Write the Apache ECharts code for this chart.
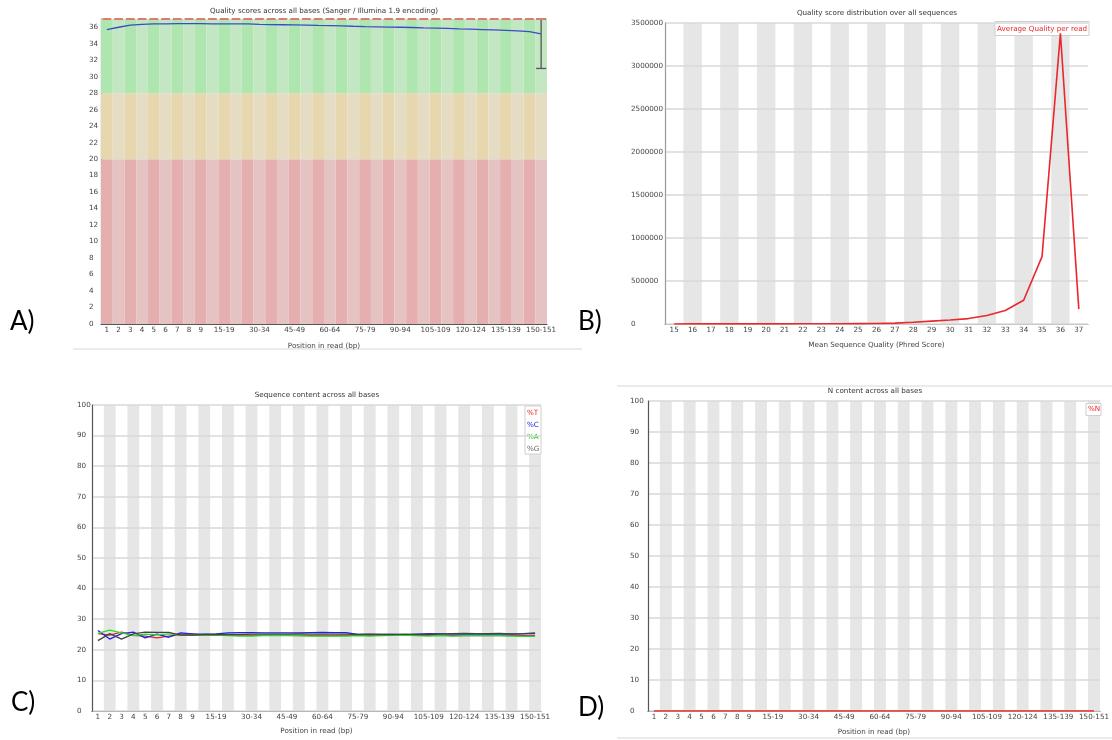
<!DOCTYPE html>
<html><head><meta charset="utf-8">
<script src="https://cdn.jsdelivr.net/npm/echarts@6/dist/echarts.min.js"></script>
<style>html,body{margin:0;padding:0;background:#fff}#c{width:1112px;height:740px}</style>
</head><body><div id="c"></div><script>
// ---------- data ----------
const positions = ['1','2','3','4','5','6','7','8','9','10-14','15-19','20-24','25-29','30-34','35-39','40-44','45-49','50-54','55-59','60-64','65-69','70-74','75-79','80-84','85-89','90-94','95-99','100-104','105-109','110-114','115-119','120-124','125-129','130-134','135-139','140-144','145-149','150-151'];

// A) per-base quality
const zoneBounds = [20, 28, 37]; // bad / ok / good upper limits
const meanQuality = [35.7,36.0,36.25,36.35,36.4,36.42,36.43,36.43,36.43,36.42,36.42,36.4,36.4,36.35,36.32,36.3,36.28,36.25,36.22,36.2,36.17,36.12,36.08,36.05,36.02,36.0,35.97,35.93,35.9,35.86,35.8,35.76,35.72,35.68,35.62,35.55,35.48,35.2];
const medianQuality = [37,37,37,37,37,37,37,37,37,37,37,37,37,37,37,37,37,37,37,37,37,37,37,37,37,37,37,37,37,37,37,37,37,37,37,37,37,37];
const lowerQuartile = [37,37,37,37,37,37,37,37,37,37,37,37,37,37,37,37,37,37,37,37,37,37,37,37,37,37,37,37,37,37,37,37,37,37,37,37,37,37];
const upperQuartile = [37,37,37,37,37,37,37,37,37,37,37,37,37,37,37,37,37,37,37,37,37,37,37,37,37,37,37,37,37,37,37,37,37,37,37,37,37,37];
const pct10 = [37,37,37,37,37,37,37,37,37,37,37,37,37,37,37,37,37,37,37,37,37,37,37,37,37,37,37,37,37,37,37,37,37,37,37,37,37,31];
const pct90 = [37,37,37,37,37,37,37,37,37,37,37,37,37,37,37,37,37,37,37,37,37,37,37,37,37,37,37,37,37,37,37,37,37,37,37,37,37,37];

// B) per-sequence quality
const phredScores = ['15','16','17','18','19','20','21','22','23','24','25','26','27','28','29','30','31','32','33','34','35','36','37'];
const readCounts = [800,900,1000,1100,1200,1500,1800,2200,2800,3500,4500,6000,10000,20000,33000,46000,63000,98000,157000,276000,783000,3380000,173000];

// C) sequence content
const pctT = [25.3,24.8,25.8,24.7,24.5,23.9,24.5,25.0,25.2,24.8,24.8,24.9,24.8,24.7,24.7,24.7,24.7,24.6,24.6,24.6,24.6,24.7,24.7,24.7,24.7,24.8,24.8,24.7,24.8,24.8,24.6,24.6,24.6,24.7,24.6,24.7,24.6,24.6];
const pctC = [26.3,23.5,25.3,25.8,23.9,25.1,24.1,25.5,25.2,25.1,25.2,25.5,25.6,25.6,25.5,25.5,25.5,25.5,25.6,25.7,25.6,25.6,25.0,25.0,25.0,25.0,24.9,25.1,25.3,25.2,25.1,25.2,25.1,25.2,25.1,25.1,25.2,25.3];
const pctA = [25.4,26.4,25.5,24.6,25.1,24.9,25.2,24.8,24.7,24.8,24.8,24.6,24.5,24.5,24.6,24.6,24.6,24.6,24.5,24.5,24.5,24.5,24.6,24.5,24.6,24.7,24.7,24.6,24.5,24.6,24.5,24.6,24.6,24.6,24.6,24.5,24.4,24.4];
const pctG = [23.0,25.3,23.5,25.2,25.8,25.7,25.7,24.8,24.8,25.0,25.0,25.0,25.0,25.1,25.1,25.1,25.1,25.2,25.1,25.1,25.1,25.1,25.0,25.1,25.0,25.0,25.1,25.0,25.0,25.2,25.3,25.4,25.3,25.3,25.4,25.2,25.3,25.5];

// D) N content
const pctN = [0,0,0,0,0,0,0,0,0,0,0,0,0,0,0,0,0,0,0,0,0,0,0,0,0,0,0,0,0,0,0,0,0,0,0,0,0,0];

// ---------- styling ----------
const FONT = 'DejaVu Sans';
const FS = 7.2;
const lab = {fontFamily: FONT, fontSize: FS, color: '#444'};
const posLabelFilter = (i) => i < 9 || (i >= 10 && (i - 10) % 3 === 0);
const goodCol = ['rgb(175,230,175)', 'rgb(195,230,195)'];
const okCol = ['rgb(230,215,175)', 'rgb(230,220,195)'];
const badCol = ['rgb(230,175,175)', 'rgb(230,195,195)'];
const stripe = {show: true, interval: 0, areaStyle: {color: ['rgba(255,255,255,0)', '#e6e6e6']}};
const gridLine = {show: true, lineStyle: {color: '#d9d9d9', width: 1.5}};

function zoneSeries(lo, hi, cols) {
  return {
    type: 'bar', xAxisIndex: 0, yAxisIndex: 0, stack: 'zones', silent: true,
    barWidth: '100%', z: 1,
    data: positions.map((p, i) => ({value: hi - lo, itemStyle: {color: cols[i % 2]}}))
  };
}

function renderBox(params, api) {
  const i = api.value(0);
  const lo = api.value(1), q1 = api.value(2), med = api.value(3), q3 = api.value(4), hi = api.value(5);
  const bw = api.size([1, 0])[0];
  const cx = api.coord([i, med])[0];
  const Y = v => api.coord([i, v])[1];
  const ch = [];
  if (hi > lo) {
    ch.push({type: 'line', shape: {x1: cx, y1: Y(lo), x2: cx, y2: Y(hi)}, style: {stroke: '#555', lineWidth: 1.3}});
    ch.push({type: 'line', shape: {x1: cx - bw * 0.43, y1: Y(lo), x2: cx + bw * 0.43, y2: Y(lo)}, style: {stroke: '#555', lineWidth: 1.3}});
    ch.push({type: 'line', shape: {x1: cx - bw * 0.43, y1: Y(hi), x2: cx + bw * 0.43, y2: Y(hi)}, style: {stroke: '#555', lineWidth: 1.3}});
  }
  if (q3 > q1) {
    ch.push({type: 'rect', shape: {x: cx - bw * 0.37, y: Y(q3), width: bw * 0.74, height: Y(q1) - Y(q3)}, style: {fill: '#eeee00', stroke: '#000', lineWidth: 1}});
  }
  ch.push({type: 'line', shape: {x1: cx - bw * 0.37, y1: Y(med), x2: cx + bw * 0.37, y2: Y(med)}, style: {stroke: '#dc7c72', lineWidth: 2}});
  return {type: 'group', children: ch};
}

function txt(x, y, text, fill, extra) {
  return Object.assign({type: 'text', x: x, y: y, z: 1, silent: true,
    style: {text: text, fill: fill, font: FS + 'px "' + FONT + '"', align: 'left', verticalAlign: 'middle'}}, extra || {});
}
function box(x, y, w, h) {
  return {type: 'rect', z: 1, silent: true, shape: {x: x, y: y, width: w, height: h}, style: {fill: '#fff', stroke: '#cfcfcf', lineWidth: 1}};
}
function title(x, y, text) {
  return {type: 'text', x: x, y: y, silent: true, style: {text: text, fill: '#333', font: FS + 'px "' + FONT + '"', align: 'center', verticalAlign: 'middle'}};
}
function panel(x, y, text) {
  return {type: 'text', x: x, y: y, silent: true, style: {text: text, fill: '#000', font: '26px Lato', align: 'left', verticalAlign: 'middle'}};
}
function sep(x1, x2, y) {
  return {type: 'line', silent: true, shape: {x1: x1, y1: y, x2: x2, y2: y}, style: {stroke: '#ebebeb', lineWidth: 2}};
}

const nameStyle = {fontFamily: FONT, fontSize: FS, color: '#444'};

const option = {
  animation: false,
  grid: [
    {left: 101, top: 19, width: 446, height: 305},
    {left: 665, top: 23, width: 423, height: 301},
    {left: 92, top: 405, width: 449, height: 306},
    {left: 648, top: 401, width: 454, height: 310}
  ],
  xAxis: [
    {type: 'category', gridIndex: 0, data: positions, boundaryGap: true,
     axisLine: {lineStyle: {color: '#555', width: 1.2}}, axisTick: {show: false},
     axisLabel: Object.assign({interval: posLabelFilter, margin: 3}, lab), splitLine: {show: false},
     name: 'Position in read (bp)', nameLocation: 'middle', nameGap: 19, nameTextStyle: nameStyle},
    {type: 'category', gridIndex: 1, data: phredScores, boundaryGap: true,
     axisLine: {lineStyle: {color: '#999', width: 1.2}}, axisTick: {show: false},
     axisLabel: Object.assign({interval: 0, margin: 3}, lab), splitArea: stripe,
     name: 'Mean Sequence Quality (Phred Score)', nameLocation: 'middle', nameGap: 18, nameTextStyle: nameStyle},
    {type: 'category', gridIndex: 2, data: positions, boundaryGap: true,
     axisLine: {lineStyle: {color: '#555', width: 1.2}}, axisTick: {show: false},
     axisLabel: Object.assign({interval: posLabelFilter, margin: 3}, lab), splitArea: stripe,
     name: 'Position in read (bp)', nameLocation: 'middle', nameGap: 17, nameTextStyle: nameStyle},
    {type: 'category', gridIndex: 3, data: positions, boundaryGap: true,
     axisLine: {lineStyle: {color: '#555', width: 1.2}}, axisTick: {show: false},
     axisLabel: Object.assign({interval: posLabelFilter, margin: 3}, lab), splitArea: stripe,
     name: 'Position in read (bp)', nameLocation: 'middle', nameGap: 18, nameTextStyle: nameStyle}
  ],
  yAxis: [
    {type: 'value', gridIndex: 0, min: 0, max: zoneBounds[2], interval: 2, z: 1,
     axisLine: {show: true, lineStyle: {color: '#555', width: 1.2}}, axisTick: {show: false}, splitLine: {show: false},
     axisLabel: Object.assign({align: 'left', margin: 12, formatter: v => (v % 2 === 0 ? String(v) : '')}, lab)},
    {type: 'value', gridIndex: 1, min: 0, max: 3500000, interval: 500000, z: 1,
     axisLine: {show: true, lineStyle: {color: '#999', width: 1.2}}, axisTick: {show: false}, splitLine: gridLine,
     axisLabel: Object.assign({align: 'left', margin: 34, formatter: v => String(v)}, lab)},
    {type: 'value', gridIndex: 2, min: 0, max: 100, interval: 10, z: 1,
     axisLine: {show: true, lineStyle: {color: '#555', width: 1.2}}, axisTick: {show: false}, splitLine: gridLine,
     axisLabel: Object.assign({align: 'left', margin: 15, formatter: v => String(v)}, lab)},
    {type: 'value', gridIndex: 3, min: 0, max: 100, interval: 10, z: 1,
     axisLine: {show: true, lineStyle: {color: '#555', width: 1.2}}, axisTick: {show: false}, splitLine: gridLine,
     axisLabel: Object.assign({align: 'left', margin: 18, formatter: v => String(v)}, lab)}
  ],
  series: [
    zoneSeries(0, zoneBounds[0], badCol),
    zoneSeries(zoneBounds[0], zoneBounds[1], okCol),
    zoneSeries(zoneBounds[1], zoneBounds[2], goodCol),
    {type: 'custom', name: 'Quality boxes', xAxisIndex: 0, yAxisIndex: 0, z: 4, clip: false, silent: true,
     renderItem: renderBox, encode: {x: 0, y: [1, 2, 3, 4, 5]},
     data: positions.map((p, i) => [i, pct10[i], lowerQuartile[i], medianQuality[i], upperQuartile[i], pct90[i]])},
    {type: 'line', name: 'Mean quality', xAxisIndex: 0, yAxisIndex: 0, z: 5, data: meanQuality,
     symbol: 'none', lineStyle: {color: '#3b4cc8', width: 1.3}, itemStyle: {color: '#3b4cc8'}},
    {type: 'line', name: 'Average Quality per read', xAxisIndex: 1, yAxisIndex: 1, z: 5, data: readCounts,
     symbol: 'none', lineStyle: {color: '#e8282c', width: 1.6}, itemStyle: {color: '#e8282c'}},
    {type: 'line', name: '%T', xAxisIndex: 2, yAxisIndex: 2, z: 5, data: pctT, symbol: 'none', lineStyle: {color: '#ee2222', width: 1.3}, itemStyle: {color: '#ee2222'}},
    {type: 'line', name: '%C', xAxisIndex: 2, yAxisIndex: 2, z: 5, data: pctC, symbol: 'none', lineStyle: {color: '#2222ee', width: 1.3}, itemStyle: {color: '#2222ee'}},
    {type: 'line', name: '%A', xAxisIndex: 2, yAxisIndex: 2, z: 5, data: pctA, symbol: 'none', lineStyle: {color: '#22dd22', width: 1.3}, itemStyle: {color: '#22dd22'}},
    {type: 'line', name: '%G', xAxisIndex: 2, yAxisIndex: 2, z: 5, data: pctG, symbol: 'none', lineStyle: {color: '#444444', width: 1.3}, itemStyle: {color: '#444444'}},
    {type: 'line', name: '%N', xAxisIndex: 3, yAxisIndex: 3, z: 5, data: pctN, symbol: 'none', lineStyle: {color: '#ee2222', width: 1.6}, itemStyle: {color: '#ee2222'}}
  ],
  graphic: [
    title(324, 11, 'Quality scores across all bases (Sanger / Illumina 1.9 encoding)'),
    title(877, 13, 'Quality score distribution over all sequences'),
    title(317, 395, 'Sequence content across all bases'),
    title(875, 391, 'N content across all bases'),
    box(995, 21.5, 94, 14),
    txt(997, 29, 'Average Quality per read', '#e8282c'),
    box(525, 406, 16, 48),
    txt(527, 413, '%T', '#ee2222'),
    txt(527, 425, '%C', '#2222ee'),
    txt(527, 437, '%A', '#22cc22'),
    txt(527, 449, '%G', '#666666'),
    box(1086, 403.5, 15, 12),
    txt(1088, 409.5, '%N', '#ee2222'),
    panel(10, 322, 'A)'),
    panel(578, 322, 'B)'),
    panel(11, 703, 'C)'),
    panel(578, 708, 'D)'),
    sep(73, 582, 349),
    sep(617, 1112, 386),
    sep(617, 1112, 738)
  ]
};
const chart = echarts.init(document.getElementById('c'));
chart.setOption(option);
</script></body></html>
